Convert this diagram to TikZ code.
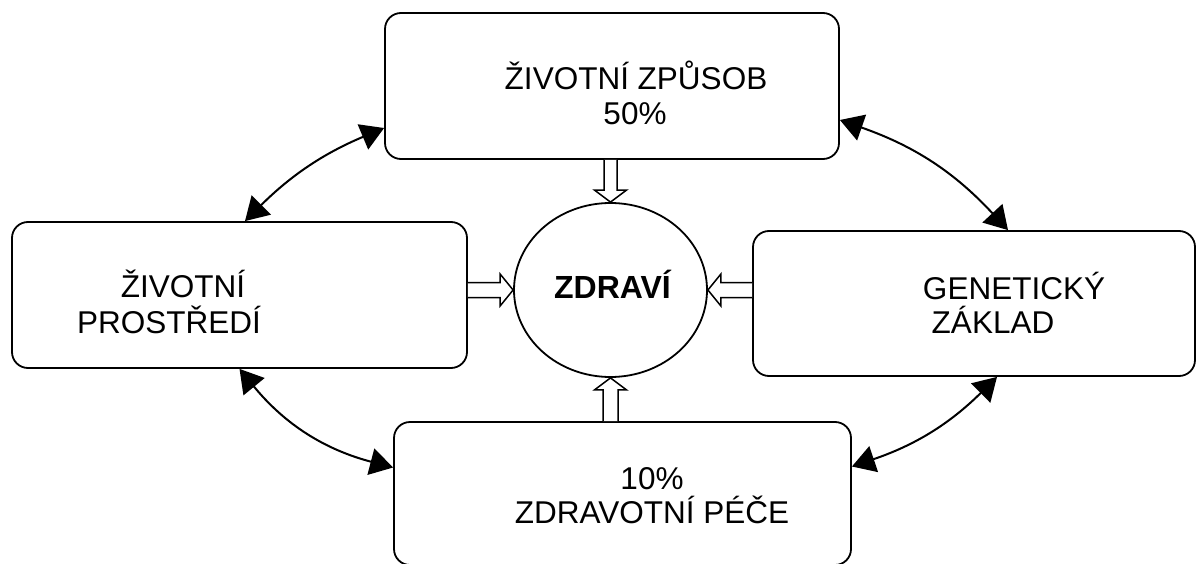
\documentclass[tikz,border=0pt]{standalone}
\usepackage{fontspec}
\setmainfont{Liberation Sans}
\usetikzlibrary{shapes.geometric,arrows.meta,calc}

\tikzset{
  box/.style={draw, line width=1.8pt, rounded corners=16pt, inner sep=0pt},
  hub/.style={draw, ellipse, line width=1.8pt, inner sep=0pt},
  lbl/.style={anchor=base, inner sep=0pt, font=\fontsize{31.5}{36}\selectfont},
  link/.style={line width=2pt,
    {Triangle[length=23pt,width=27pt]}-{Triangle[length=23pt,width=27pt]}},
  hollow/.style={draw, line width=1.5pt, fill=white, line join=miter},
}

\begin{document}
\begin{tikzpicture}[x=1pt, y=-1pt]
\useasboundingbox (0,0) rectangle (1198,564);

% boxes and the central ellipse
\node[box, minimum width=454pt, minimum height=146pt] (top) at (612,86) {};
\node[box, minimum width=455pt, minimum height=146pt] (left) at (239.5,295) {};
\node[box, minimum width=442pt, minimum height=145pt] (right) at (974,303.5) {};
\node[box, minimum width=457pt, minimum height=143pt] (bottom) at (622.5,493.5) {};
\node[hub, minimum width=193pt, minimum height=174pt] (zd) at (610.5,290) {};

% labels
\node[lbl] (t1) at (636,90) {ŽIVOTNÍ ZPŮSOB};
\node[lbl] (t2) at (635,125) {50\%};
\node[lbl] (l1) at (183,297) {ŽIVOTNÍ};
\node[lbl] (l2) at (169,333) {PROSTŘEDÍ};
\node[lbl] (r1) at (1014,299) {GENETICKÝ};
\node[lbl] (r2) at (993,333) {ZÁKLAD};
\node[lbl] (b1) at (652,489) {10\%};
\node[lbl] (b2) at (652,523) {ZDRAVOTNÍ PÉČE};
\node[lbl, font=\fontsize{32}{36}\selectfont\bfseries] (zt) at (612.5,298) {ZDRAVÍ};

% curved two-way links between the outer boxes
\draw[link] ([xshift=5.5pt]left.north) to[bend left=11] ([yshift=-42pt]top.west);
\draw[link] ([yshift=-34pt]top.east) to[bend left=14] ([xshift=34pt]right.north);
\draw[link] (left.south) to[bend right=18] ([yshift=26pt]bottom.west);
\draw[link] ([xshift=23pt]right.south) to[bend left=13] ([yshift=27pt]bottom.east);

% hollow block arrows into the ellipse
\draw[hollow] ($(top.south -| zd.north)+(-6.5,0)$) -- ($(zd.north)+(-6.5,-12)$)
  -- ++(-9.5,0) -- (zd.north) -- ++(16,-12) -- ++(-9.5,0)
  -- ($(top.south -| zd.north)+(6.5,0)$);
\draw[hollow] ($(bottom.north -| zd.south)+(-7.5,0)$) -- ($(zd.south)+(-7.5,12)$)
  -- ++(-8.5,0) -- (zd.south) -- ++(16,12) -- ++(-8.5,0)
  -- ($(bottom.north -| zd.south)+(7.5,0)$);
\draw[hollow] ($(left.east |- zd.west)+(0,-7.5)$) -- ($(zd.west)+(-13,-7.5)$)
  -- ++(0,-8.5) -- (zd.west) -- ++(-13,16) -- ++(0,-8.5)
  -- ($(left.east |- zd.west)+(0,7.5)$);
\draw[hollow] ($(right.west |- zd.east)+(0,-7.5)$) -- ($(zd.east)+(13,-7.5)$)
  -- ++(0,-8.5) -- (zd.east) -- ++(13,16) -- ++(0,-8.5)
  -- ($(right.west |- zd.east)+(0,7.5)$);
\end{tikzpicture}
\end{document}
